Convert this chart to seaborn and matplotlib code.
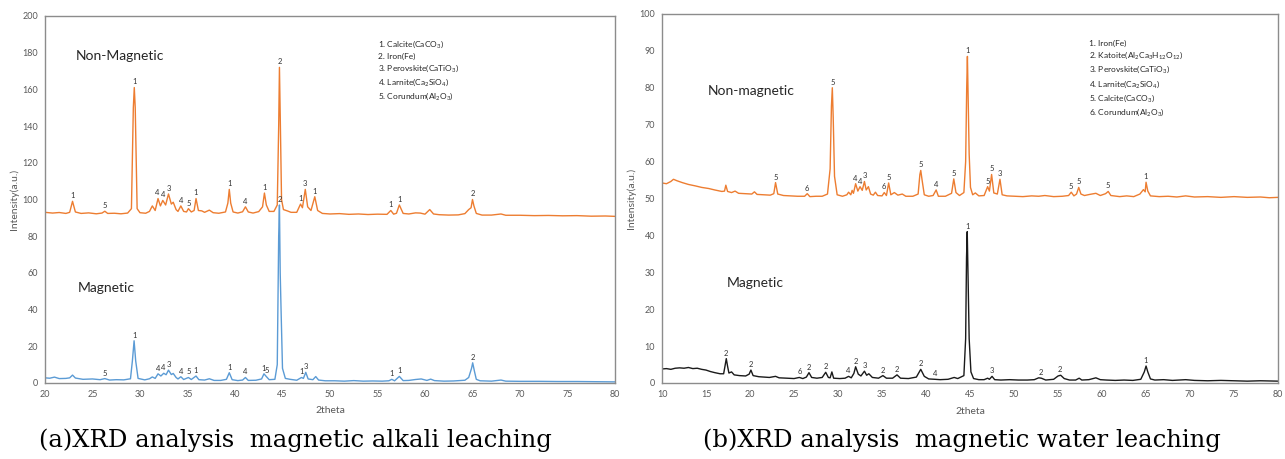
import matplotlib
matplotlib.use("Agg")
import matplotlib.pyplot as plt
import pandas as pd
import seaborn as sns

# =============================================================================
# data: (2theta, intensity) points of each pattern

nonmag_a = [
    (20.0, 93.0), (20.8, 92.6), (21.5, 92.9), (22.2, 92.4), (22.6, 93.0), (22.9, 99.0), (23.2, 93.2),
    (23.8, 92.4), (24.6, 92.7), (25.4, 92.2), (26.0, 92.6), (26.3, 93.6), (26.6, 92.4), (27.3, 92.5),
    (28.0, 92.2), (28.7, 92.6), (29.1, 95.0), (29.3, 150.0), (29.4, 161.0), (29.5, 150.0), (29.7, 95.0),
    (30.0, 92.8), (30.6, 92.5), (31.0, 93.5), (31.3, 96.5), (31.6, 94.0), (31.9, 100.5), (32.15, 96.5),
    (32.4, 99.5), (32.7, 97.0), (33.0, 103.0), (33.3, 97.5), (33.5, 98.5), (33.8, 94.5), (34.0, 93.5),
    (34.3, 96.5), (34.6, 93.5), (34.9, 93.2), (35.1, 95.0), (35.4, 93.2), (35.7, 94.0), (35.9, 100.5),
    (36.15, 94.0), (36.5, 93.8), (36.8, 93.0), (37.3, 94.2), (37.7, 92.8), (38.3, 92.5), (39.0, 93.2),
    (39.25, 98.0), (39.4, 105.5), (39.55, 98.0), (39.8, 93.2), (40.3, 92.6), (40.8, 93.3), (41.1, 96.0),
    (41.4, 93.2), (41.9, 92.6), (42.5, 93.4), (42.9, 96.0), (43.1, 103.5), (43.3, 97.0), (43.6, 93.5),
    (44.1, 93.5), (44.45, 97.0), (44.6, 140.0), (44.68, 172.0), (44.78, 140.0), (44.9, 100.0),
    (45.1, 94.5), (45.5, 93.8), (45.9, 93.0), (46.5, 93.0), (46.9, 97.5), (47.1, 95.5), (47.4, 105.5),
    (47.65, 96.0), (48.0, 94.0), (48.4, 101.5), (48.7, 94.0), (49.2, 92.4), (50.0, 92.1), (51.0, 92.3),
    (52.0, 91.9), (53.0, 92.1), (54.0, 91.8), (55.0, 92.0), (56.0, 91.9), (56.4, 94.0), (56.7, 92.0),
    (57.0, 92.5), (57.3, 97.0), (57.7, 92.4), (58.3, 92.1), (59.0, 92.7), (59.5, 92.6), (60.0, 92.0),
    (60.5, 94.5), (60.9, 92.1), (61.5, 91.7), (62.5, 91.5), (63.5, 91.6), (64.2, 92.3), (64.6, 94.5),
    (64.85, 95.5), (65.0, 100.0), (65.15, 96.5), (65.4, 92.4), (66.0, 91.5), (67.0, 91.5), (68.0, 92.1),
    (68.5, 91.4), (70.0, 91.4), (71.5, 91.2), (73.0, 91.3), (74.5, 91.1), (76.0, 91.2), (77.5, 90.9),
    (79.0, 91.0), (80.0, 90.8),
]

mag_a = [
    (20.0, 2.8), (20.5, 2.6), (21.0, 3.2), (21.5, 2.4), (22.2, 2.5), (22.6, 2.8), (22.9, 4.3), (23.2, 2.7),
    (24.0, 2.0), (25.0, 2.2), (25.8, 1.8), (26.3, 2.4), (26.8, 1.6), (27.5, 1.8), (28.3, 1.7), (29.0, 2.3),
    (29.2, 12.0), (29.38, 23.0), (29.55, 12.0), (29.8, 2.5), (30.5, 1.7), (31.0, 2.3), (31.3, 3.3),
    (31.6, 2.5), (31.9, 5.0), (32.2, 3.8), (32.5, 5.3), (32.75, 4.5), (33.0, 7.0), (33.3, 4.6), (33.5, 5.2),
    (33.8, 3.0), (34.0, 2.2), (34.3, 3.4), (34.6, 1.9), (35.1, 3.0), (35.4, 1.9), (35.9, 3.8), (36.2, 1.8),
    (36.8, 1.6), (37.3, 2.3), (37.8, 1.4), (38.5, 1.4), (39.1, 2.0), (39.4, 5.6), (39.7, 1.8), (40.3, 1.3),
    (40.8, 1.6), (41.1, 3.0), (41.4, 1.4), (42.2, 1.5), (42.8, 2.2), (43.05, 5.0), (43.3, 3.5), (43.6, 1.8),
    (44.2, 2.0), (44.45, 10.0), (44.6, 80.0), (44.68, 97.0), (44.76, 60.0), (44.85, 40.0), (45.0, 8.0),
    (45.3, 2.5), (45.8, 2.0), (46.5, 1.5), (47.0, 3.0), (47.2, 2.5), (47.45, 5.8), (47.7, 2.2), (48.2, 1.8),
    (48.5, 3.5), (48.8, 1.6), (49.5, 1.2), (50.5, 1.2), (51.5, 1.0), (52.5, 1.3), (53.5, 1.0), (54.5, 1.1),
    (55.5, 1.0), (56.2, 1.2), (56.5, 2.0), (56.8, 1.2), (57.3, 3.6), (57.7, 1.3), (58.3, 1.4), (59.0, 1.9),
    (59.6, 2.2), (60.2, 1.4), (60.6, 2.1), (61.0, 1.3), (62.0, 1.0), (63.0, 1.1), (64.2, 1.5), (64.6, 3.0),
    (64.9, 8.0), (65.02, 11.0), (65.2, 6.5), (65.4, 2.0), (65.8, 1.2), (67.0, 1.0), (68.0, 1.6), (68.5, 1.0),
    (70.0, 0.9), (72.0, 0.9), (74.0, 0.8), (76.0, 0.8), (78.0, 0.7), (80.0, 0.6),
]

nonmag_b = [
    (10.0, 54.2), (10.5, 54.0), (11.0, 54.6), (11.3, 55.2), (11.7, 54.8), (12.3, 54.3), (13.0, 53.8),
    (13.8, 53.4), (14.5, 53.0), (15.3, 52.7), (16.0, 52.3), (16.8, 51.9), (17.1, 52.0), (17.25, 53.6),
    (17.45, 51.9), (17.9, 51.6), (18.3, 52.0), (18.7, 51.4), (19.4, 51.3), (20.2, 51.2), (20.5, 51.8),
    (20.8, 51.1), (21.5, 51.0), (22.3, 50.9), (22.7, 51.3), (22.9, 54.3), (23.15, 51.2), (23.8, 50.8),
    (24.6, 50.7), (25.4, 50.6), (26.2, 50.6), (26.5, 51.3), (26.8, 50.5), (27.5, 50.6), (28.2, 50.6),
    (28.8, 51.2), (29.1, 58.0), (29.25, 75.0), (29.35, 80.0), (29.45, 72.0), (29.6, 56.0), (29.9, 51.0),
    (30.5, 50.6), (31.0, 51.0), (31.2, 51.7), (31.45, 51.0), (31.6, 52.2), (31.75, 51.4), (32.0, 54.0),
    (32.25, 52.0), (32.5, 53.2), (32.75, 52.2), (33.0, 54.6), (33.2, 52.3), (33.45, 53.2), (33.7, 51.2),
    (34.0, 50.9), (34.25, 51.7), (34.5, 50.8), (35.0, 50.7), (35.25, 51.6), (35.5, 50.8), (35.75, 54.2),
    (36.0, 51.0), (36.4, 51.6), (36.8, 50.9), (37.3, 51.2), (37.7, 50.6), (38.5, 50.6), (39.1, 51.2),
    (39.3, 56.5), (39.4, 57.6), (39.55, 55.0), (39.8, 51.0), (40.3, 50.6), (40.8, 50.8), (41.15, 52.3),
    (41.4, 50.6), (42.2, 50.6), (42.9, 51.4), (43.15, 55.3), (43.4, 51.6), (43.8, 50.8), (44.3, 51.6),
    (44.5, 60.0), (44.62, 80.0), (44.7, 88.5), (44.8, 76.0), (44.9, 62.0), (45.05, 53.0), (45.3, 51.0),
    (45.6, 51.5), (46.0, 50.7), (46.6, 50.8), (47.0, 53.2), (47.2, 52.0), (47.45, 56.5), (47.7, 51.5),
    (48.1, 51.2), (48.4, 55.2), (48.65, 51.0), (49.2, 50.7), (50.0, 50.6), (51.0, 50.5), (52.0, 50.7),
    (52.8, 50.6), (53.5, 50.8), (54.5, 50.5), (55.5, 50.6), (56.2, 50.8), (56.5, 51.7), (56.8, 50.7),
    (57.1, 51.2), (57.35, 53.0), (57.6, 51.2), (58.0, 50.8), (58.6, 51.1), (59.3, 51.4), (59.8, 50.8),
    (60.4, 51.3), (60.7, 51.9), (61.0, 50.8), (62.0, 50.5), (62.8, 50.7), (63.6, 50.5), (64.3, 51.2),
    (64.7, 52.4), (64.9, 51.8), (65.0, 54.4), (65.2, 52.0), (65.5, 50.7), (66.5, 50.5), (67.5, 50.6),
    (68.5, 50.4), (69.5, 50.7), (70.5, 50.4), (72.0, 50.5), (73.5, 50.3), (75.0, 50.5), (76.5, 50.3),
    (78.0, 50.4), (79.0, 50.2), (80.0, 50.3),
]

mag_b = [
    (10.0, 3.8), (10.5, 3.9), (11.0, 3.7), (11.5, 4.0), (12.0, 4.1), (12.5, 4.0), (13.0, 4.2), (13.5, 3.9),
    (14.0, 4.0), (14.5, 3.7), (15.0, 3.5), (15.5, 3.1), (16.0, 2.8), (16.6, 2.5), (17.0, 2.5), (17.15, 4.5),
    (17.3, 6.6), (17.45, 4.5), (17.6, 2.7), (17.9, 3.0), (18.2, 2.2), (18.8, 2.0), (19.5, 1.9), (19.9, 2.4),
    (20.1, 3.5), (20.35, 2.0), (21.0, 1.7), (21.6, 1.6), (22.2, 1.5), (22.9, 1.8), (23.3, 1.4), (24.2, 1.3),
    (25.0, 1.2), (25.6, 1.5), (26.0, 1.2), (26.4, 1.6), (26.7, 2.8), (27.0, 1.5), (27.6, 1.3), (28.2, 1.5),
    (28.6, 2.9), (28.9, 1.5), (29.1, 1.4), (29.3, 3.0), (29.5, 1.3), (30.2, 1.2), (30.8, 1.3), (31.2, 1.8),
    (31.5, 1.4), (31.8, 2.6), (32.0, 4.4), (32.3, 2.4), (32.6, 1.9), (33.0, 3.2), (33.25, 2.1), (33.5, 2.5),
    (33.9, 1.5), (34.6, 1.3), (35.1, 2.0), (35.5, 1.3), (36.2, 1.3), (36.7, 2.2), (37.1, 1.3), (38.0, 1.2),
    (38.9, 1.6), (39.4, 3.7), (39.8, 1.8), (40.3, 1.1), (41.0, 1.0), (41.6, 0.9), (42.5, 1.0), (43.2, 1.5),
    (43.6, 1.2), (44.3, 2.0), (44.5, 12.0), (44.6, 34.0), (44.68, 41.0), (44.78, 28.0), (44.9, 12.0),
    (45.1, 3.0), (45.4, 1.2), (46.0, 0.9), (46.6, 0.9), (47.0, 1.3), (47.2, 1.0), (47.5, 1.8), (47.8, 0.9),
    (48.5, 0.8), (49.5, 0.9), (50.5, 0.8), (51.5, 0.8), (52.3, 0.9), (52.8, 1.4), (53.1, 1.3), (53.6, 0.8),
    (54.5, 1.0), (55.0, 1.9), (55.3, 2.1), (55.7, 1.2), (56.3, 0.8), (57.0, 0.8), (57.4, 1.3), (57.7, 0.8),
    (58.5, 0.9), (59.3, 1.4), (59.8, 0.9), (60.5, 0.8), (61.5, 0.7), (62.5, 0.8), (63.5, 0.7), (64.4, 1.0),
    (64.8, 3.0), (65.0, 4.6), (65.2, 3.0), (65.5, 1.1), (66.0, 0.8), (67.0, 0.9), (68.0, 0.7), (69.5, 0.9),
    (70.5, 0.7), (72.0, 0.6), (73.5, 0.7), (75.0, 0.6), (76.5, 0.5), (78.0, 0.6), (80.0, 0.5),
]

# peak labels: (2theta, peak height, phase number)
nonmag_a_labels = [(22.9, 99, "1"), (26.3, 93.6, "5"), (29.4, 161, "1"), (31.85, 100.5, "4"), (32.4, 99.5, "4"),
                   (33.0, 103, "3"), (34.3, 96.5, "4"), (35.1, 95, "5"), (35.9, 100.5, "1"), (39.4, 105.5, "1"),
                   (41.1, 96, "4"), (43.1, 103.5, "1"), (44.68, 172, "2"), (46.9, 97.5, "1"), (47.4, 105.5, "3"),
                   (48.4, 101.5, "1"), (56.4, 94, "1"), (57.3, 97, "1"), (65.0, 100, "2")]
mag_a_labels = [(26.3, 2.4, "5"), (29.4, 23, "1"), (31.9, 5.0, "4"), (32.45, 5.3, "4"), (33.0, 7.0, "3"),
                (34.3, 3.4, "4"), (35.1, 3.0, "5"), (35.9, 3.8, "1"), (39.4, 5.6, "1"), (41.1, 3.0, "4"),
                (43.05, 5.0, "1"), (43.35, 3.5, "5"), (44.68, 97, "2"), (47.0, 3.0, "1"), (47.45, 5.8, "3"),
                (56.5, 2.0, "1"), (57.3, 3.6, "1"), (65.02, 11, "2")]
nonmag_b_labels = [(22.9, 54.3, "5"), (26.5, 51.3, "6"), (29.35, 80, "5"), (31.95, 54.0, "4"), (32.5, 53.2, "4"),
                   (33.05, 54.6, "3"), (35.25, 51.6, "6"), (35.75, 54.2, "5"), (39.4, 57.6, "5"), (41.15, 52.3, "4"),
                   (43.15, 55.3, "5"), (44.7, 88.5, "1"), (47.0, 53.2, "5"), (47.45, 56.5, "5"), (48.4, 55.2, "3"),
                   (56.5, 51.7, "5"), (57.35, 53.0, "5"), (60.7, 51.9, "5"), (65.0, 54.4, "1")]
mag_b_labels = [(17.3, 6.6, "2"), (20.1, 3.5, "2"), (25.6, 1.5, "6"), (26.7, 2.8, "2"), (28.6, 2.9, "2"),
                (31.2, 1.8, "4"), (32.0, 4.4, "2"), (33.0, 3.2, "3"), (35.1, 2.0, "2"), (36.7, 2.2, "2"),
                (39.4, 3.7, "2"), (41.0, 1.0, "4"), (44.68, 41, "1"), (47.5, 1.8, "3"), (53.0, 1.4, "2"),
                (55.2, 2.1, "2"), (65.0, 4.6, "1")]

phases_a = ["1. Calcite(CaCO$\\mathregular{_3}$)", "2. Iron(Fe)", "3. Perovskite(CaTiO$\\mathregular{_3}$)",
            "4. Larnite(Ca$\\mathregular{_2}$SiO$\\mathregular{_4}$)", "5. Corundum(Al$\\mathregular{_2}$O$\\mathregular{_3}$)"]
phases_b = ["1. Iron(Fe)", "2. Katoite(Al$\\mathregular{_2}$Ca$\\mathregular{_3}$H$\\mathregular{_{12}}$O$\\mathregular{_{12}}$)",
            "3. Perovskite(CaTiO$\\mathregular{_3}$)", "4. Larnite(Ca$\\mathregular{_2}$SiO$\\mathregular{_4}$)",
            "5. Calcite(CaCO$\\mathregular{_3}$)", "6. Corundum(Al$\\mathregular{_2}$O$\\mathregular{_3}$)"]

# =============================================================================

sns.set_theme(style="white")
plt.rcParams['font.family'] = ['Lato', 'DejaVu Sans']
plt.rcParams['mathtext.fontset'] = 'custom'
plt.rcParams['mathtext.rm'] = 'Lato'

ORANGE = "#ED7D31"
BLUE = "#5B9BD5"
BLACK = "#1a1a1a"
GREY = "#595959"


def to_df(points):
    return pd.DataFrame(points, columns=["two_theta", "intensity"])


def draw(ax, points, labels, color):
    sns.lineplot(data=to_df(points), x="two_theta", y="intensity", ax=ax,
                 color=color, linewidth=1.0, estimator=None)
    for x, y, t in labels:
        ax.annotate(t, (x, y), xytext=(0, 1.5), textcoords="offset points",
                    ha="center", va="bottom", fontsize=5.5, color="#333333")


def style(ax, xlim, ylim, ystep):
    ax.set_xlim(*xlim)
    ax.set_ylim(*ylim)
    ax.set_xticks(range(xlim[0], xlim[1] + 1, 5))
    ax.set_yticks(range(ylim[0], ylim[1] + 1, ystep))
    ax.tick_params(length=0, labelsize=6.5, labelcolor=GREY, pad=5)
    for s in ax.spines.values():
        s.set_color("#8c8c8c")
        s.set_linewidth(1.0)
    ax.set_xlabel("2theta", fontsize=7.5, color=GREY)
    ax.set_ylabel("Intensity(a.u.)", fontsize=7.5, color=GREY)


fig = plt.figure(figsize=(12.85, 4.59), dpi=100)
ax1 = fig.add_axes([0.035, 0.1656, 0.4436, 0.7996])
ax2 = fig.add_axes([0.5152, 0.1656, 0.4794, 0.804])

# (a) alkali leaching
draw(ax1, nonmag_a, nonmag_a_labels, ORANGE)
draw(ax1, mag_a, mag_a_labels, BLUE)
style(ax1, (20, 80), (0, 200), 20)
ax1.yaxis.set_label_coords(-0.046, 0.5)
ax1.xaxis.set_label_coords(0.5, -0.064)
ax1.text(23.2, 178, "Non-Magnetic", fontsize=10, color="#262626", va="center")
ax1.text(23.4, 52, "Magnetic", fontsize=10, color="#262626", va="center")
ax1.text(55.05, 187.5, "\n".join(phases_a), fontsize=6, color="#262626", va="top", linespacing=1.35)

# (b) water leaching
draw(ax2, nonmag_b, nonmag_b_labels, ORANGE)
draw(ax2, mag_b, mag_b_labels, BLACK)
style(ax2, (10, 80), (0, 100), 10)
ax2.yaxis.set_label_coords(-0.043, 0.5)
ax2.xaxis.set_label_coords(0.5, -0.064)
ax2.text(15.2, 79.2, "Non-magnetic", fontsize=10, color="#262626", va="center")
ax2.text(17.4, 27, "Magnetic", fontsize=10, color="#262626", va="center")
ax2.text(58.5, 93, "\n".join(phases_b), fontsize=6, color="#262626", va="top", linespacing=1.35)

fig.text(0.2296, 0.041, "(a)XRD analysis  magnetic alkali leaching", ha="center", va="center",
         family="DejaVu Serif", fontsize=17.5, color="black")
fig.text(0.7486, 0.041, "(b)XRD analysis  magnetic water leaching", ha="center", va="center",
         family="DejaVu Serif", fontsize=17.5, color="black")

fig.savefig("out.png", dpi=100)
